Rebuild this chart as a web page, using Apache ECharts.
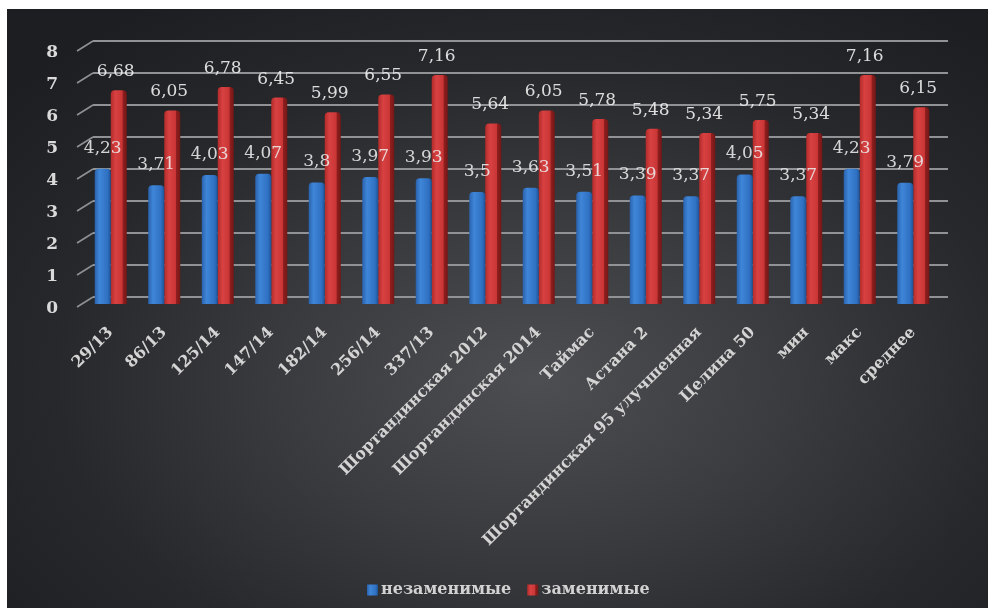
<!DOCTYPE html>
<html>
<head>
<meta charset="utf-8">
<script src="https://cdn.jsdelivr.net/npm/echarts@6/dist/echarts.min.js"></script>
<style>
  html, body { margin: 0; padding: 0; background: #ffffff; }
  #bg {
    position: absolute; left: 7px; top: 9px; width: 981px; height: 599px;
    background: radial-gradient(ellipse 70% 75% at 54% 62%, #4c4e51 0%, #3a3c3f 35%, #26282b 70%, #1c1e21 100%);
  }
  #chart { position: absolute; left: 0; top: 0; width: 988px; height: 608px; }
</style>
</head>
<body>
<div id="bg"></div>
<div id="chart"></div>
<script>
// Categories (varieties and summary rows)
const categories = [
  '29/13', '86/13', '125/14', '147/14', '182/14', '256/14', '337/13',
  'Шортандинская 2012', 'Шортандинская 2014', 'Таймас', 'Астана 2',
  'Шортандинская 95 улучшенная', 'Целина 50', 'мин', 'макс', 'среднее'
];

// Series values
const essential = [4.23, 3.71, 4.03, 4.07, 3.8, 3.97, 3.93, 3.5, 3.63, 3.51, 3.39, 3.37, 4.05, 3.37, 4.23, 3.79];
const replaceable = [6.68, 6.05, 6.78, 6.45, 5.99, 6.55, 7.16, 5.64, 6.05, 5.78, 5.48, 5.34, 5.75, 5.34, 7.16, 6.15];

const seriesNames = ['незаменимые', 'заменимые'];

// Value axis ticks
const yTicks = [0, 1, 2, 3, 4, 5, 6, 7, 8];

const serif = '"DejaVu Serif", "Liberation Serif", serif';
const gridColor = '#909295';

function fmt(v) { return String(v).replace('.', ','); }

const blueFill = new echarts.graphic.LinearGradient(0, 0, 1, 0, [
  { offset: 0, color: '#2a62ad' },
  { offset: 0.3, color: '#3f86d8' },
  { offset: 0.8, color: '#2f70c2' },
  { offset: 1, color: '#1f5394' }
]);
const redFill = new echarts.graphic.LinearGradient(0, 0, 1, 0, [
  { offset: 0, color: '#b32b2b' },
  { offset: 0.3, color: '#d84141' },
  { offset: 0.72, color: '#c93535' },
  { offset: 0.76, color: '#8f1f1f' },
  { offset: 1, color: '#761616' }
]);

const chart = echarts.init(document.getElementById('chart'), null, { renderer: 'canvas' });

chart.setOption({
  backgroundColor: 'transparent',
  animation: false,
  legend: {
    left: 362,
    top: 577,
    itemWidth: 11,
    itemHeight: 11,
    itemGap: 16,
    icon: 'rect',
    textStyle: { color: '#d2d2d2', fontFamily: serif, fontWeight: 'bold', fontSize: 16, padding: [0, 0, 0, -2] },
    data: seriesNames
  },
  grid: [
    // front plane: bars and labels
    { left: 84, right: 48, top: 48, bottom: 304 },
    // back wall: gridlines
    { left: 93, right: 40, top: 41, bottom: 311 }
  ],
  xAxis: [
    {
      type: 'category', gridIndex: 0, data: categories,
      axisLine: { show: false }, axisTick: { show: false },
      axisLabel: {
        interval: 0, rotate: 45, margin: 26,
        color: '#d4d4d4', fontFamily: serif, fontWeight: 'bold', fontSize: 16
      }
    },
    {
      type: 'category', gridIndex: 1, data: categories,
      axisLine: { show: false }, axisTick: { show: false }, axisLabel: { show: false }
    }
  ],
  yAxis: [
    {
      type: 'value', gridIndex: 0, min: 0, max: 8, interval: 1,
      axisLine: { show: false }, axisTick: { show: false },
      splitLine: { show: false },
      axisLabel: {
        margin: 26, color: '#dadada', fontFamily: serif,
        fontWeight: 'bold', fontSize: 17, verticalAlign: 'top', lineHeight: 10
      }
    },
    {
      type: 'value', gridIndex: 1, min: 0, max: 8, interval: 1,
      axisLine: { show: false }, axisTick: { show: false }, axisLabel: { show: false },
      splitLine: { show: true, lineStyle: { color: gridColor, width: 2 } }
    }
  ],
  series: [
    {
      // slanted edges of the side wall joining each gridline
      type: 'custom',
      xAxisIndex: 1, yAxisIndex: 1,
      silent: true,
      data: yTicks.map(v => [0, v]),
      encode: { x: 0, y: 1 },
      renderItem: function (params, api) {
        const y = api.coord([0, api.value(1)])[1];
        const x0 = params.coordSys.x;
        return {
          type: 'line',
          shape: { x1: x0, y1: y, x2: x0 - 16, y2: y + 10 },
          style: { stroke: gridColor, lineWidth: 1.5 }
        };
      }
    },
    {
      name: seriesNames[0],
      type: 'bar',
      xAxisIndex: 0, yAxisIndex: 0,
      data: essential,
      barWidth: 16,
      barGap: '0%',
      z: 3,
      itemStyle: { color: blueFill, borderRadius: [4, 4, 0, 0] },
      label: {
        show: true, position: 'top', distance: 12, offset: [-3, 0],
        formatter: p => fmt(p.value),
        color: 'rgba(236,236,236,0.88)', fontFamily: serif, fontSize: 17
      },
      labelLayout: { moveOverlap: false }
    },
    {
      name: seriesNames[1],
      type: 'bar',
      xAxisIndex: 0, yAxisIndex: 0,
      data: replaceable,
      barWidth: 16,
      z: 2,
      itemStyle: { color: redFill, borderRadius: [4, 4, 0, 0] },
      label: {
        show: true, position: 'top', distance: 10, offset: [-3, 0],
        formatter: p => fmt(p.value),
        color: 'rgba(236,236,236,0.92)', fontFamily: serif, fontSize: 17
      }
    }
  ]
});
</script>
</body>
</html>
